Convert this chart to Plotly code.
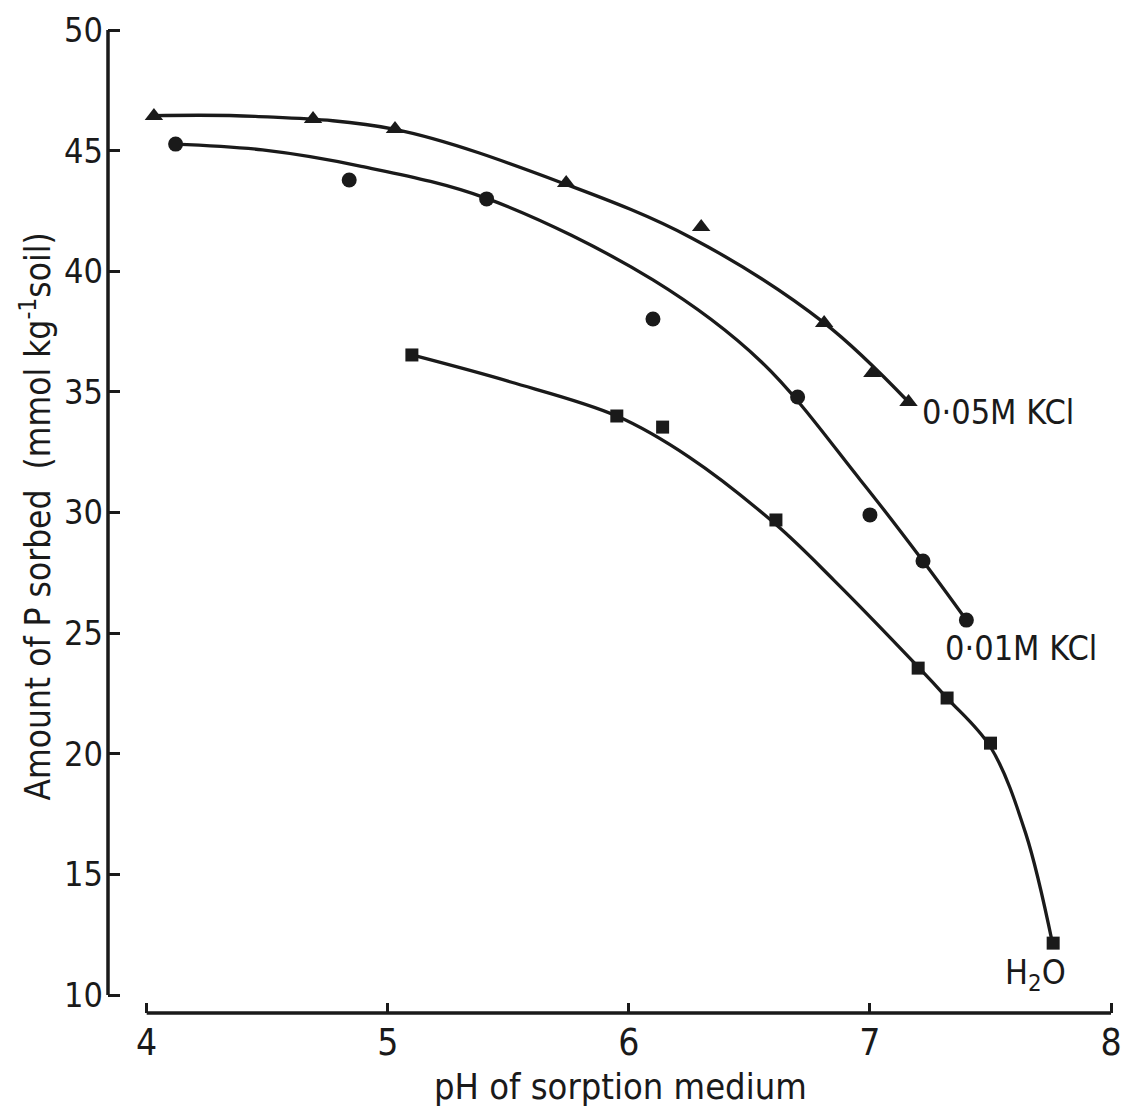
import plotly.graph_objects as go

# Measured P sorption vs pH of the sorption medium
ph_kcl005 = [4.03, 4.69, 5.03, 5.74, 6.30, 6.81, 7.01, 7.16]
p_kcl005 = [46.44, 46.31, 45.90, 43.66, 41.83, 37.86, 35.78, 34.58]

ph_kcl001 = [4.12, 4.84, 5.41, 6.10, 6.70, 7.00, 7.22, 7.40]
p_kcl001 = [45.27, 43.78, 43.00, 38.02, 34.79, 29.90, 27.99, 25.54]

ph_h2o = [5.10, 5.95, 6.14, 6.61, 7.20, 7.32, 7.50, 7.76]
p_h2o = [36.53, 34.00, 33.54, 29.69, 23.55, 22.31, 20.44, 12.15]

# Hand-fitted trend curves (x, y knots along each drawn curve)
fit005_x = [4.03, 4.45, 5.03, 5.74, 6.26, 6.81, 7.16]
fit005_y = [46.45, 46.42, 45.88, 43.60, 41.38, 37.86, 34.58]

fit001_x = [4.115, 4.48, 4.89, 5.41, 6.10, 6.55, 6.96, 7.22, 7.40]
fit001_y = [45.27, 45.03, 44.35, 43.02, 39.64, 36.24, 31.35, 27.99, 25.54]

fith2o_x = [5.10, 5.51, 5.95, 6.25, 6.61, 6.85, 7.20, 7.32, 7.50, 7.646, 7.757]
fith2o_y = [36.53, 35.41, 34.00, 32.30, 29.50, 27.20, 23.60, 22.31, 20.28, 16.70, 12.15]

x_ticks = [4, 5, 6, 7, 8]
y_ticks = [10, 15, 20, 25, 30, 35, 40, 45, 50]

FONT = "DejaVu Sans Condensed, Liberation Sans Narrow, DejaVu Sans, sans-serif"
INK = "#1a1a1a"

fig = go.Figure()

for fx, fy in [(fit005_x, fit005_y), (fit001_x, fit001_y), (fith2o_x, fith2o_y)]:
    fig.add_trace(go.Scatter(
        x=fx, y=fy, mode="lines",
        line=dict(color=INK, width=3.3, shape="spline", smoothing=1.0),
        hoverinfo="skip", showlegend=False,
    ))

for px, py, sym, sz in [
    (ph_kcl005, p_kcl005, "triangle-up", 16),
    (ph_kcl001, p_kcl001, "circle", 15),
    (ph_h2o, p_h2o, "square", 13),
]:
    fig.add_trace(go.Scatter(
        x=px, y=py, mode="markers",
        marker=dict(symbol=sym, size=sz, color=INK, line=dict(width=0)),
        showlegend=False,
    ))

# Detached axis lines
fig.add_shape(type="line", xref="paper", yref="y", x0=0, x1=0, y0=10, y1=50,
              line=dict(color=INK, width=3.5))
fig.add_shape(type="line", xref="x", yref="paper", x0=4, x1=8, y0=0, y1=0,
              line=dict(color=INK, width=3.5))

# Curve labels
for txt, xx, yy in [
    ("0·05M KCl", 7.206, 34.17),
    ("0·01M KCl", 7.305, 24.38),
    ("H<sub>2</sub>O", 7.552, 10.83),
]:
    fig.add_annotation(x=xx, y=yy, xref="x", yref="y", text=txt, showarrow=False,
                       xanchor="left", yanchor="middle",
                       font=dict(family=FONT, size=34, color=INK))

fig.add_annotation(x=0.5099, y=-0.0751, xref="paper", yref="paper",
                   text="pH of sorption medium", showarrow=False,
                   xanchor="center", yanchor="middle",
                   font=dict(family=FONT, size=36, color=INK))
fig.add_annotation(x=-0.072, y=0.5036, xref="paper", yref="paper",
                   text="Amount of P sorbed  (mmol kg<sup>-1</sup>soil)",
                   showarrow=False, textangle=-90,
                   xanchor="center", yanchor="middle",
                   font=dict(family=FONT, size=35, color=INK))

fig.update_layout(
    width=1132, height=1112,
    margin=dict(l=108, r=10, t=28, b=99),
    paper_bgcolor="white", plot_bgcolor="white",
    font=dict(family=FONT, color=INK),
    xaxis=dict(range=[3.8395, 8.0123], tickvals=x_ticks, ticks="inside",
               ticklen=10, tickwidth=3, tickcolor=INK, showline=False,
               showgrid=False, zeroline=False, ticklabelstandoff=4,
               tickfont=dict(family=FONT, size=37, color=INK)),
    yaxis=dict(range=[9.254, 50.083], tickvals=y_ticks, ticks="inside",
               ticklen=12, tickwidth=3, tickcolor=INK, showline=False,
               showgrid=False, zeroline=False, ticklabelstandoff=4,
               tickfont=dict(family=FONT, size=34, color=INK)),
)

fig.write_html("out.html")
